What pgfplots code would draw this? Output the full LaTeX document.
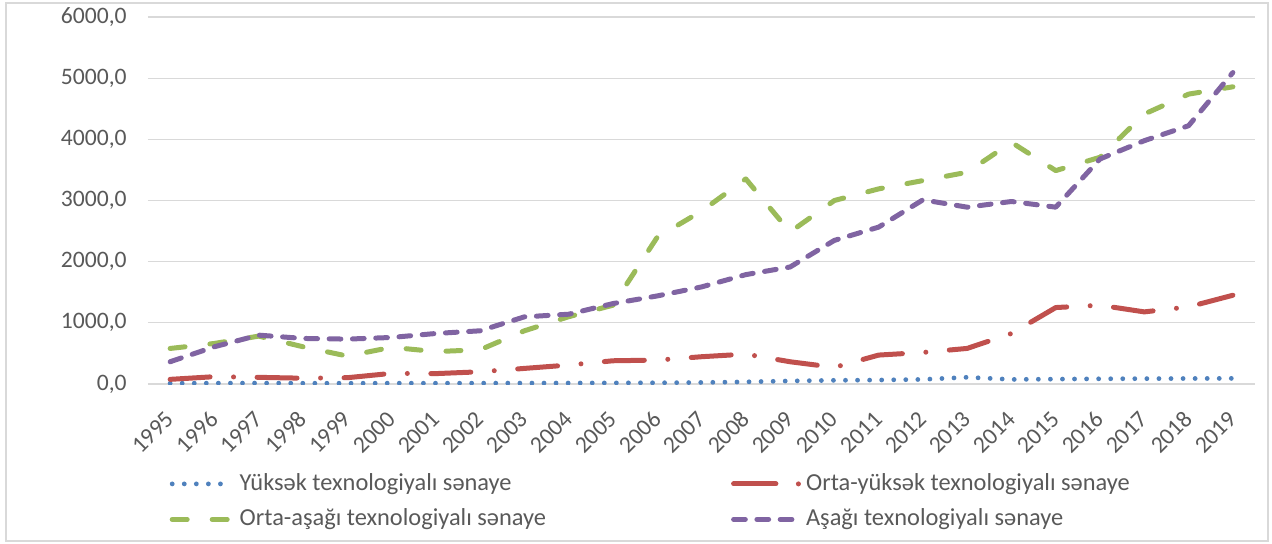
\documentclass[border=0pt]{standalone}
\usepackage{pgfplots}
\pgfplotsset{compat=1.18}
\usepackage{fontspec}
\setmainfont{Carlito}
\definecolor{cblue}{HTML}{4F81BD}
\definecolor{cred}{HTML}{C0504D}
\definecolor{cgreen}{HTML}{9BBB59}
\definecolor{cpurple}{HTML}{8064A2}
\definecolor{cgrid}{HTML}{D9D9D9}
\definecolor{ctext}{HTML}{595959}
\pgfplotsset{redlegend/.style={legend image code/.code={\draw[##1, dash pattern=on 21.15pt off 11.25pt on 0pt off 20pt] (0pt,0pt) -- (32.5pt,0pt);}}}
\begin{document}
\begin{tikzpicture}
\begin{axis}[
  scale only axis, width=553.5pt, height=183.5pt,
  xmin=1994.5, xmax=2019.5, ymin=0, ymax=6000,
  xtick={1995,...,2019}, ytick={0,1000,...,6000},
  ymajorgrids, major grid style={color=cgrid, line width=0.6pt},
  axis line style={draw=none}, major tick length=0pt,
  /pgf/number format/assume math mode=true,
  tick label style={font=\fontsize{11.8}{13}\selectfont, text=ctext},
  xticklabel style={rotate=45, anchor=east, inner sep=0pt, /pgf/number format/1000 sep={}},
  xticklabel shift=15.5pt,
  yticklabel style={anchor=east, inner sep=0pt, /pgf/number format/.cd, fixed, fixed zerofill, precision=1, use comma, 1000 sep={}},
  yticklabel shift=10.5pt,
  legend columns=2,
  legend cell align=left,
  legend image code/.code={\draw[#1] (0pt,0pt) -- (30pt,0pt);},
  legend style={at={(rel axis cs:0.0196,-0.2411)}, anchor=north west, draw=none, fill=none,
    inner sep=0pt, outer sep=0pt, font=\fontsize{12.2}{14}\selectfont, text=ctext,
    column sep=2.5pt, row sep=6.35pt,
    nodes={inner sep=0pt, text height=8.8pt, text depth=2.6pt},
    /tikz/column 2/.style={column sep=92.5pt}},
]
\addplot[color=cblue, line width=2.4pt, line cap=round, dash pattern=on 0pt off 6.03pt] coordinates {
(1995,12)(1996,14)(1997,15)(1998,13)(1999,12)(2000,14)(2001,13)(2002,14)(2003,15)(2004,16)(2005,18)(2006,20)(2007,25)(2008,35)(2009,50)(2010,60)(2011,65)(2012,75)(2013,110)(2014,75)(2015,80)(2016,85)(2017,88)(2018,90)(2019,92)};
\addlegendentry{Yüksək texnologiyalı sənaye}
\addplot[color=cred, line width=2.5pt, line cap=round, line join=round, dash pattern=on 20pt off 11.75pt on 0pt off 11.75pt, redlegend] coordinates {
(1995,76)(1996,120)(1997,109)(1998,95)(1999,103)(2000,174)(2001,170)(2002,200)(2003,255)(2004,310)(2005,380)(2006,391)(2007,446)(2008,489)(2009,364)(2010,272)(2011,473)(2012,516)(2013,582)(2014,826)(2015,1250)(2016,1288)(2017,1179)(2018,1261)(2019,1451)};
\addlegendentry{Orta-yüksək texnologiyalı sənaye}
\addplot[color=cgreen, line width=2.5pt, line cap=round, line join=round, dash pattern=on 7.5pt off 12.5pt] coordinates {
(1995,581)(1996,663)(1997,783)(1998,609)(1999,457)(2000,600)(2001,530)(2002,560)(2003,870)(2004,1100)(2005,1288)(2006,2400)(2007,2826)(2008,3353)(2009,2484)(2010,3000)(2011,3190)(2012,3326)(2013,3462)(2014,3951)(2015,3489)(2016,3707)(2017,4413)(2018,4739)(2019,4859)};
\addlegendentry{Orta-aşağı texnologiyalı sənaye}
\addplot[color=cpurple, line width=2.5pt, line cap=round, line join=round, dash pattern=on 5.85pt off 5.8pt] coordinates {
(1995,364)(1996,609)(1997,799)(1998,745)(1999,734)(2000,761)(2001,826)(2002,870)(2003,1098)(2004,1141)(2005,1315)(2006,1440)(2007,1587)(2008,1788)(2009,1913)(2010,2348)(2011,2565)(2012,3011)(2013,2891)(2014,2984)(2015,2891)(2016,3679)(2017,3978)(2018,4223)(2019,5092)};
\addlegendentry{Aşağı texnologiyalı sənaye}
\end{axis}
\draw[cgrid, line width=0.75pt] (current axis.south west) ++(-71pt,-78.5pt) rectangle ++(631pt,269pt);
\path (current axis.south west) ++(-74pt,-79.5pt) rectangle ++(636pt,271.5pt);
\end{tikzpicture}
\end{document}
